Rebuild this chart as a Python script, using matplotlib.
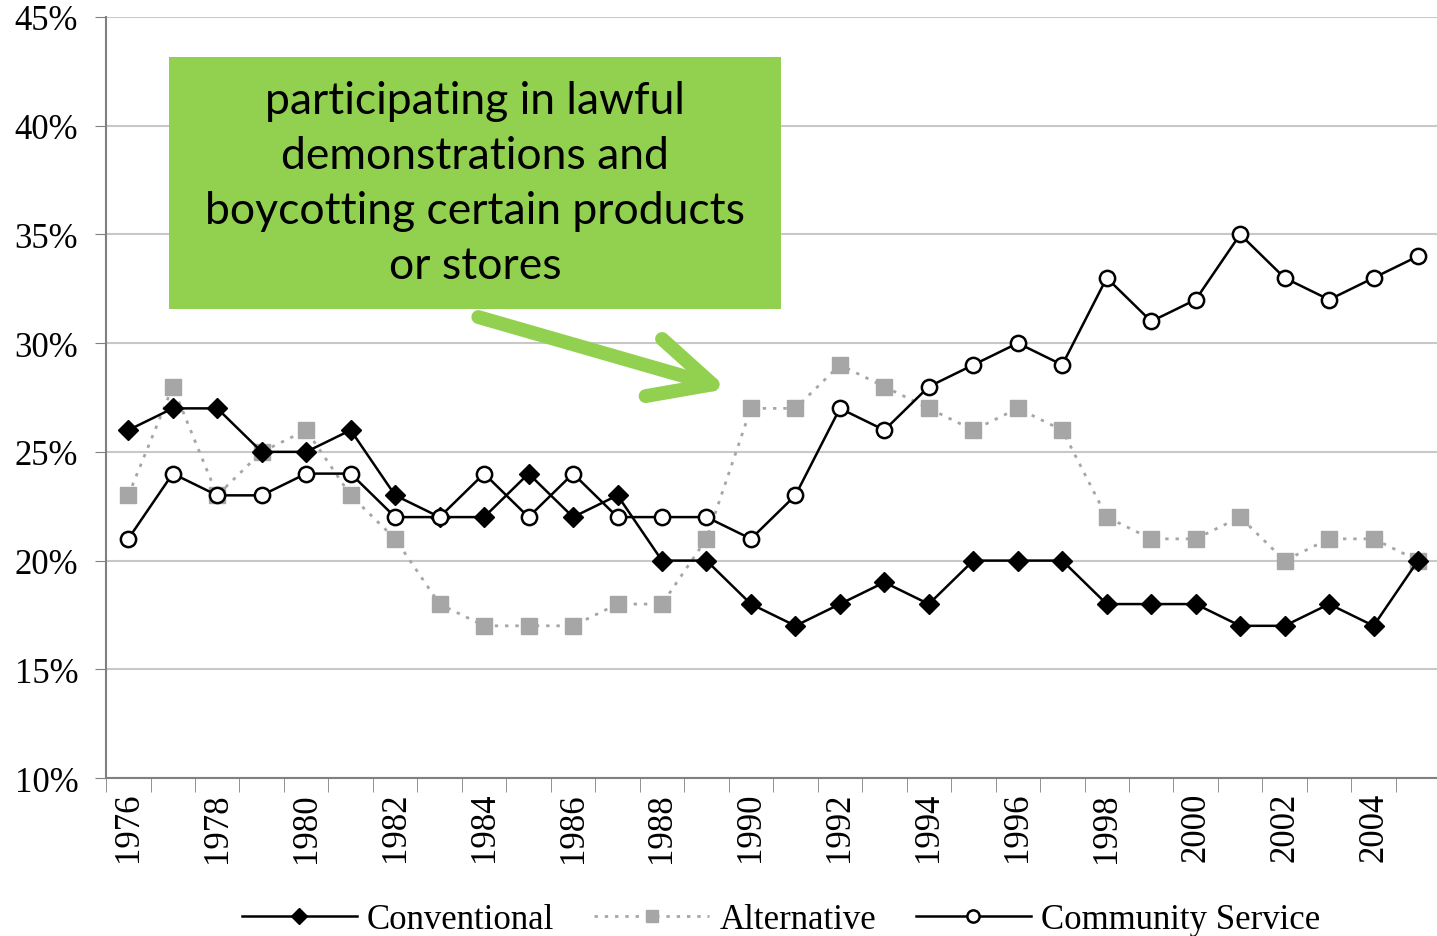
import matplotlib
matplotlib.use('Agg')
import matplotlib.pyplot as plt
from matplotlib.patches import Rectangle
import numpy as np

years = list(range(1976, 2006))
conventional = [26, 27, 27, 25, 25, 26, 23, 22, 22, 24, 22, 23, 20, 20, 18,
                17, 18, 19, 18, 20, 20, 20, 18, 18, 18, 17, 17, 18, 17, 20]
alternative = [23, 28, 23, 25, 26, 23, 21, 18, 17, 17, 17, 18, 18, 21, 27,
               27, 29, 28, 27, 26, 27, 26, 22, 21, 21, 22, 20, 21, 21, 20]
community = [21, 24, 23, 23, 24, 24, 22, 22, 24, 22, 24, 22, 22, 22, 21,
             23, 27, 26, 28, 29, 30, 29, 33, 31, 32, 35, 33, 32, 33, 34]
yticks = [10, 15, 20, 25, 30, 35, 40, 45]
note = "participating in lawful\ndemonstrations and\nboycotting certain products\nor stores"

serif = 'Liberation Serif'
green = '#92D050'

fig = plt.figure(figsize=(14.37, 9.37), dpi=100)
ax = fig.add_axes([0.0738, 0.1686, 0.9285, 0.8122])

x = np.arange(len(years))
ax.plot(x, alternative, color='#a6a6a6', linestyle=(0, (1.2, 2.5)), linewidth=2,
        marker='s', markersize=11, markeredgecolor='#a6a6a6', label='Alternative', zorder=2)
ax.plot(x, conventional, color='black', linewidth=1.8, marker='D', markersize=10,
        label='Conventional', zorder=3)
ax.plot(x, community, color='black', linewidth=1.8, marker='o', markersize=11,
        markerfacecolor='white', markeredgewidth=1.8, label='Community Service', zorder=4)

ax.set_xlim(-0.5, len(years) - 0.5)
ax.set_ylim(10, 45)
ax.set_yticks(yticks)
ax.set_yticklabels(['%d%%' % v for v in yticks], fontsize=25, family=serif)
ax.set_xticks(x[::2])
ax.set_xticklabels([str(y) for y in years[::2]], rotation=90, fontsize=25, family=serif)
ax.set_xticks(np.arange(-0.5, len(years)), minor=True)
ax.tick_params(axis='x', which='major', length=0, pad=10)
ax.tick_params(axis='x', which='minor', length=10, color='#808080', direction='out')
ax.tick_params(axis='y', length=8, color='#808080', pad=12)
ax.grid(axis='y', color='#c8c8c8', linewidth=1.5)
ax.set_axisbelow(True)
for s in ['top', 'right']:
    ax.spines[s].set_visible(False)
for s in ['left', 'bottom']:
    ax.spines[s].set_color('#808080')
    ax.spines[s].set_linewidth(1.5)

h, l = ax.get_legend_handles_labels()
order = [1, 0, 2]
ax.legend([h[i] for i in order], [l[i] for i in order], loc='lower center',
          bbox_to_anchor=(0.506, -0.249), ncol=3, frameon=False,
          prop={'family': serif, 'size': 25}, handlelength=3.3, columnspacing=1.15,
          handletextpad=0.3, markerscale=0.8)

# annotation arrow and box
ax.annotate('', xy=(13.48, 27.9), xytext=(7.87, 31.2),
            arrowprops=dict(arrowstyle='->,head_length=2.2,head_width=1.07',
                            mutation_scale=20, color=green, linewidth=10,
                            capstyle='round', joinstyle='round', shrinkA=0, shrinkB=0),
            zorder=5)
fig.patches.append(Rectangle((0.1176, 0.6692), 0.4259, 0.269, transform=fig.transFigure,
                             facecolor=green, edgecolor='none', zorder=6))
fig.text(0.3306, 0.8036, note, ha='center', va='center', fontsize=32, family='Lato',
         linespacing=1.42, zorder=7)

fig.savefig('out.png', dpi=100, facecolor='white')
